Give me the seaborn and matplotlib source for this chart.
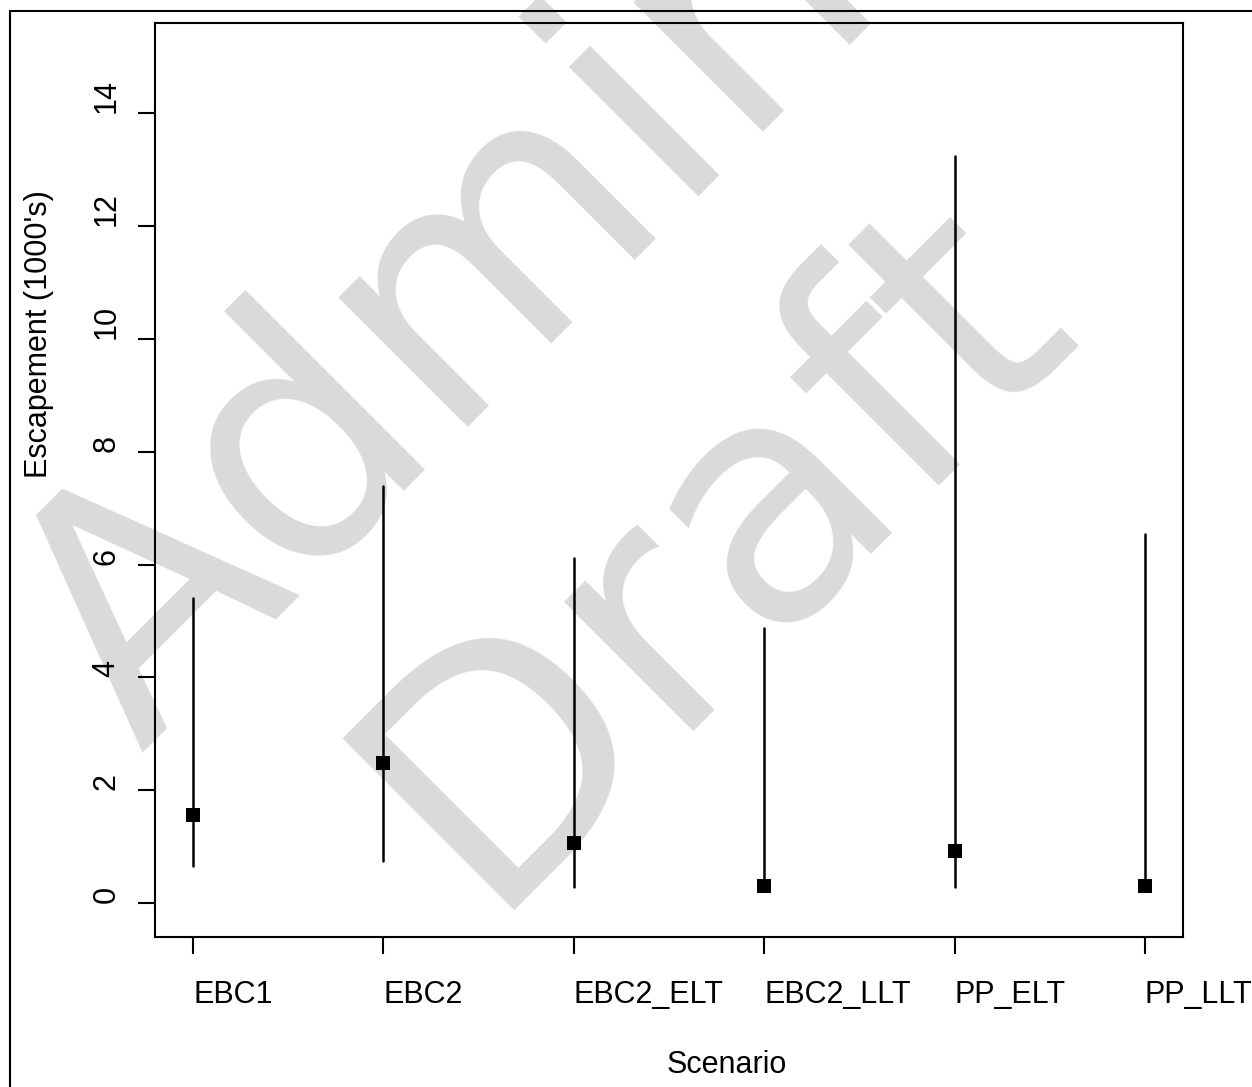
import matplotlib
matplotlib.use("Agg")
import matplotlib.pyplot as plt
from matplotlib.patches import Rectangle
import seaborn as sns
import pandas as pd

# Escapement summary per harvest scenario (thousands of fish)
scenarios = ["EBC1", "EBC2", "EBC2_ELT", "EBC2_LLT", "PP_ELT", "PP_LLT"]
median_esc = [1.57, 2.49, 1.07, 0.31, 0.93, 0.31]
lower_esc = [0.65, 0.75, 0.28, 0.31, 0.28, 0.31]
upper_esc = [5.40, 7.39, 6.12, 4.88, 13.24, 6.54]
y_ticks = [0, 2, 4, 6, 8, 10, 12, 14]

# long table: low / median / high per scenario; the point is the median,
# the vertical bar spans min..max
rows = []
for s, lo, md, hi in zip(scenarios, lower_esc, median_esc, upper_esc):
    for v in (lo, md, hi):
        rows.append({"Scenario": s, "Escapement": v})
df = pd.DataFrame(rows)

sns.set_theme(style="white")
plt.rcParams["font.family"] = ["Liberation Sans", "DejaVu Sans"]
plt.rcParams["text.color"] = "black"
plt.rcParams["axes.labelcolor"] = "black"
plt.rcParams["xtick.color"] = "black"
plt.rcParams["ytick.color"] = "black"

W, H = 1252, 1087
fig = plt.figure(figsize=(W / 100, H / 100), dpi=100)
fig.patch.set_facecolor("white")

ax = fig.add_axes([155 / W, 1 - 937 / H, (1183 - 155) / W, (937 - 23) / H])
ax.patch.set_alpha(0)

sns.pointplot(
    data=df, x="Scenario", y="Escapement", order=scenarios,
    estimator="median", errorbar=lambda v: (min(v), max(v)),
    color="black", markers="s", linestyles="none", markersize=9.5,
    err_kws={"linewidth": 1.8}, capsize=0, ax=ax,
)
for ln in ax.lines:
    ln.set_markeredgewidth(0)

ax.set_xlim(-0.2, 5.2)
ax.set_ylim(-0.6, 15.6)
ax.set_yticks(y_ticks)
ax.set_yticklabels([str(t) for t in y_ticks], rotation=90, va="bottom")
ax.set_xticks(range(len(scenarios)))
ax.set_xticklabels(scenarios, ha="left")

for sp in ax.spines.values():
    sp.set_visible(True)
    sp.set_color("black")
    sp.set_linewidth(1.5)

ax.tick_params(axis="x", direction="out", length=12, width=1.5, colors="black",
               labelsize=22, pad=19, bottom=True)
ax.tick_params(axis="y", direction="out", length=12, width=1.5, colors="black",
               labelsize=22, pad=12, left=True)
ax.grid(False)

ax.set_xlabel("Scenario", fontsize=22, color="black")
ax.set_ylabel("Escapement (1000's)", fontsize=22, color="black")
ax.xaxis.set_label_coords(0.556, -0.124)
ax.yaxis.set_label_coords(-0.098, 0.66)

# outer frame of the page
fig.patches.append(Rectangle((10 / W, -0.1), 1.2, 1 - 11 / H + 0.1,
                             transform=fig.transFigure, fill=False,
                             edgecolor="black", linewidth=1.5, zorder=5))

# diagonal watermark behind the data
wm_kw = dict(rotation=45, rotation_mode="anchor", ha="left", va="baseline",
             color="#dadada", fontsize=240, family="DejaVu Sans", zorder=-1)
fig.text(140 / W, 1 - 752 / H, "Admin", **wm_kw)
fig.text(482 / W, 1 - 910 / H, "Draft", **wm_kw)

fig.savefig("out.png", dpi=100)
